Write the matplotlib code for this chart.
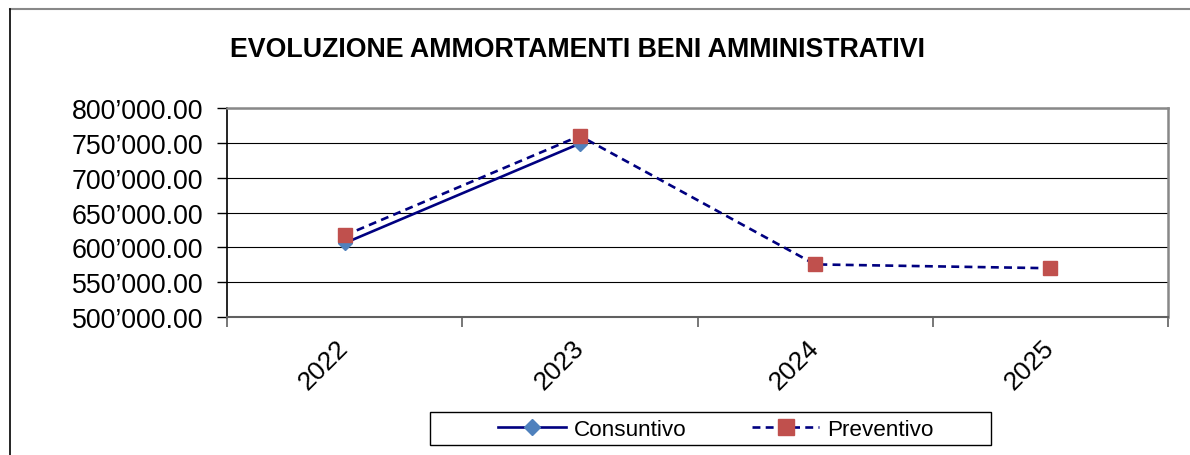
import matplotlib.pyplot as plt
import matplotlib.ticker as mticker
from matplotlib.patches import Rectangle
import numpy as np

years = ['2022', '2023', '2024', '2025']
consuntivo = [606000, 749000, np.nan, np.nan]
preventivo = [617000, 760000, 575500, 570000]

plt.rcParams['font.family'] = ['Liberation Sans', 'DejaVu Sans']

fig = plt.figure(figsize=(11.9, 4.56), dpi=100)
ax = fig.add_axes([227 / 1190, 1 - 318 / 456, 941 / 1190, 209 / 456])

x = np.arange(len(years)) + 0.5
ax.plot(x, consuntivo, color='#000080', linewidth=1.9, marker='D', markersize=7,
        markerfacecolor='#4F81BD', markeredgecolor='#4F81BD', label='Consuntivo', zorder=3)
ax.plot(x, preventivo, color='#000080', linewidth=1.9, linestyle=(0, (3, 2)), marker='s',
        markersize=10, markerfacecolor='#C0504D', markeredgecolor='#C0504D',
        label='Preventivo', zorder=4)

ax.set_xlim(0, 4)
ax.set_ylim(500000, 800000)
ax.set_yticks(np.arange(500000, 800001, 50000))
ax.yaxis.set_major_formatter(mticker.FuncFormatter(lambda v, p: f"{v:,.2f}".replace(',', '’')))
ax.grid(axis='y', color='black', linewidth=0.8)
ax.set_axisbelow(True)

# ticks between categories, labels at category centres
ax.set_xticks(np.arange(0, 5))
ax.set_xticklabels([])
ax.set_xticks(x, minor=True)
ax.set_xticklabels(years, minor=True, rotation=45, ha='right', va='center',
                   rotation_mode='anchor', fontsize=19)
ax.tick_params(axis='x', which='minor', length=0, pad=19)
ax.tick_params(axis='x', which='major', length=7, width=1.2, color='#606060')
ax.tick_params(axis='y', length=7, width=1, labelsize=19.3, pad=10)

for side in ['top', 'right']:
    ax.spines[side].set_color('#888888')
    ax.spines[side].set_linewidth(1.8)
ax.spines['bottom'].set_color('#606060')
ax.spines['bottom'].set_linewidth(1.5)
ax.spines['left'].set_color('black')
ax.spines['left'].set_linewidth(1.2)

fig.text(578 / 1190, 1 - 50 / 456, 'EVOLUZIONE AMMORTAMENTI BENI AMMINISTRATIVI',
         ha='center', va='center', fontsize=19.3, fontweight='bold')

# legend box drawn separately, entries sit left of its centre as in the original
fig.add_artist(Rectangle((430 / 1190, 1 - 446 / 456), 561 / 1190, 33 / 456,
                         transform=fig.transFigure, fill=False, edgecolor='black',
                         linewidth=1))
fig.legend(loc='center', bbox_to_anchor=(716 / 1190, 1 - 430 / 456), ncol=2,
           fontsize=16.2, frameon=False, handlelength=3.0, markerscale=1.1,
           columnspacing=2.9, borderpad=0.0, handletextpad=0.35)

# outer chart border
fig.add_artist(plt.Line2D([10 / 1190, 1], [1 - 10 / 456, 1 - 10 / 456],
                          color='#888888', linewidth=1.5, transform=fig.transFigure))
fig.add_artist(plt.Line2D([10 / 1190, 10 / 1190], [0, 1 - 10 / 456],
                          color='black', linewidth=1.2, transform=fig.transFigure))

fig.savefig('out.png', dpi=100)
